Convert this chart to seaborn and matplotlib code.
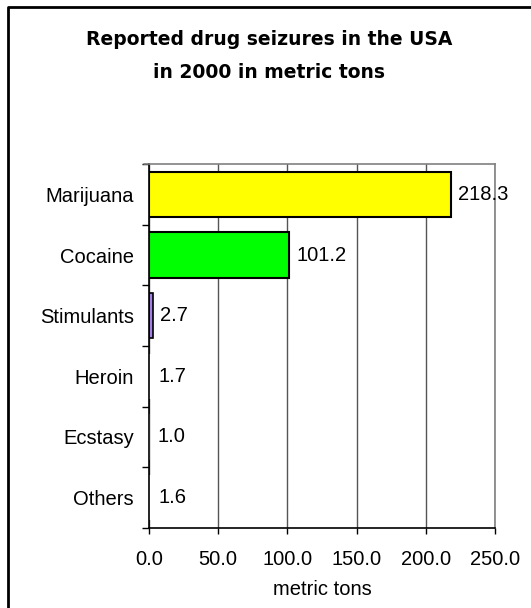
import matplotlib
matplotlib.use("Agg")
import matplotlib.pyplot as plt
import seaborn as sns
import pandas as pd
from matplotlib.lines import Line2D

# Reported seizures, metric tons
drugs = ["Marijuana", "Cocaine", "Stimulants", "Heroin", "Ecstasy", "Others"]
tons = [218.3, 101.2, 2.7, 1.7, 1.0, 1.6]
bar_colors = ["#FFFF00", "#00FF00", "#A080E0", "#FFFFFF", "#FFFFFF", "#FFFFFF"]
edge_widths = [1.5, 1.5, 1.2, 0.0, 0.0, 0.0]
x_ticks = [0, 50, 100, 150, 200, 250]
x_tick_labels = ["0.0", "50.0", "100.0", "150.0", "200.0", "250.0"]
title_text = "Reported drug seizures in the USA\nin 2000 in metric tons"
x_title = "metric tons"

df = pd.DataFrame({"drug": drugs, "tons": tons})

sns.set_theme(style="white")
plt.rcParams["font.family"] = ["Liberation Sans", "DejaVu Sans"]
plt.rcParams["text.color"] = "black"
plt.rcParams["axes.labelcolor"] = "black"
plt.rcParams["xtick.color"] = "black"
plt.rcParams["ytick.color"] = "black"

fig = plt.figure(figsize=(5.31, 6.08), dpi=100)
ax = fig.add_axes([149 / 531, 80 / 608, 346 / 531, 364 / 608])

sns.barplot(data=df, x="tons", y="drug", hue="drug", palette=bar_colors,
            saturation=1, legend=False, width=0.75, ax=ax, orient="h")

for patch, lw in zip(ax.patches, edge_widths):
    patch.set_edgecolor("black")
    patch.set_linewidth(lw)

for container in ax.containers:
    ax.bar_label(container, fmt="%.1f", padding=5, fontsize=14.5, color="black")

ax.set_xlim(0, 250)
ax.set_ylim(len(drugs) - 0.5, -0.5)
ax.set_xticks(x_ticks)
ax.set_xticklabels(x_tick_labels, fontsize=14.5)
ax.set_xlabel(x_title, fontsize=14.5, labelpad=8)
ax.set_ylabel("")
ax.tick_params(axis="y", which="major", length=0, labelsize=14.5, pad=11)
ax.tick_params(axis="x", which="major", length=4, width=1, direction="out",
               color="black", pad=12, bottom=True)

# category separator ticks on the left axis
ax.set_yticks([i + 0.5 for i in range(-1, len(drugs))], minor=True)
ax.tick_params(axis="y", which="minor", length=5, width=1, direction="out",
               color="black", left=True)

ax.grid(axis="x", color="#555555", linewidth=1)
ax.grid(axis="y", visible=False)
ax.set_axisbelow(True)

for side in ["left", "bottom"]:
    ax.spines[side].set_color("black")
    ax.spines[side].set_linewidth(1.2)
for side in ["top", "right"]:
    ax.spines[side].set_color("#808080")
    ax.spines[side].set_linewidth(1.2)
    ax.spines[side].set_visible(True)

# short stub at top-left continuing the top border
ax.add_line(Line2D([-5 / 346 * 250, 0], [-0.5, -0.5], color="#808080",
                   linewidth=1.2, clip_on=False))

fig.text(269 / 531, 1 - 56 / 608, title_text, ha="center", va="center",
         fontsize=13.5, fontweight="bold", linespacing=1.9,
         family=["DejaVu Sans"], color="black")

# chart frame (top and left edges)
fig.add_artist(Line2D([8 / 531, 8 / 531, 1.0], [0.0, 1 - 7 / 608, 1 - 7 / 608],
                      transform=fig.transFigure, color="black", linewidth=2))

fig.savefig("out.png", dpi=100, facecolor="white")
